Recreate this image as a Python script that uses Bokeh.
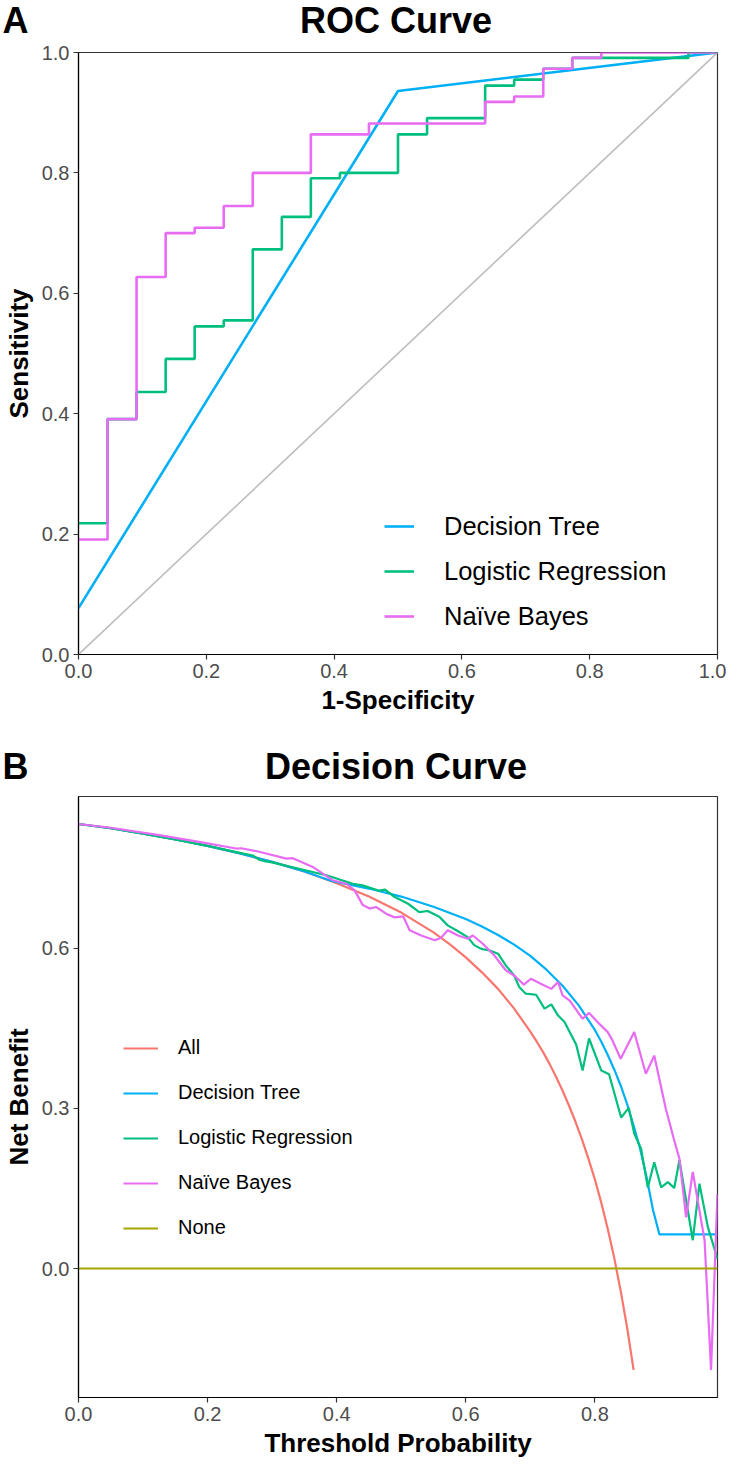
from bokeh.plotting import figure
from bokeh.layouts import column
from bokeh.models import Label, Legend, LegendItem, Range1d, FixedTicker, PrintfTickFormatter
from bokeh.embed import file_html
from bokeh.resources import INLINE

FONT = "Liberation Sans"

# ---------------- Panel A: ROC curve data ----------------
dt_fpr = [0.0, 0.5, 1.0]
dt_tpr = [0.077, 0.936, 1.0]

lr_fpr = [0.0, 0.0455, 0.0455, 0.0909, 0.0909, 0.1364, 0.1364, 0.1818, 0.1818, 0.2273,
          0.2273, 0.2727, 0.2727, 0.3182, 0.3182, 0.3636, 0.3636, 0.4091, 0.4091, 0.5,
          0.5, 0.5455, 0.5455, 0.6364, 0.6364, 0.6818, 0.6818, 0.7273, 0.7273, 0.7727,
          0.7727, 0.9545, 0.9545, 1.0]
lr_tpr = [0.218, 0.218, 0.391, 0.391, 0.436, 0.436, 0.491, 0.491, 0.545, 0.545,
          0.555, 0.555, 0.673, 0.673, 0.727, 0.727, 0.791, 0.791, 0.8, 0.8,
          0.864, 0.864, 0.891, 0.891, 0.945, 0.945, 0.955, 0.955, 0.973, 0.973,
          0.991, 0.991, 1.0, 1.0]

nb_fpr = [0.0, 0.0455, 0.0455, 0.0909, 0.0909, 0.1364, 0.1364, 0.1818, 0.1818, 0.2273,
          0.2273, 0.2727, 0.2727, 0.3636, 0.3636, 0.4545, 0.4545, 0.6364, 0.6364, 0.6818,
          0.6818, 0.7273, 0.7273, 0.7727, 0.7727, 0.8182, 0.8182, 1.0]
nb_tpr = [0.191, 0.191, 0.391, 0.391, 0.627, 0.627, 0.700, 0.700, 0.709, 0.709,
          0.745, 0.745, 0.800, 0.800, 0.864, 0.864, 0.882, 0.882, 0.918, 0.918,
          0.927, 0.927, 0.973, 0.973, 0.991, 0.991, 1.0, 1.0]

diag_x = [0.0, 1.0]
diag_y = [0.0, 1.0]

roc_ticks = [0.0, 0.2, 0.4, 0.6, 0.8, 1.0]

# ---------------- Panel B: decision curve data ----------------
all_pt = [0.0, 0.05, 0.1, 0.15, 0.2, 0.25, 0.3, 0.35, 0.4, 0.45, 0.5, 0.55, 0.575, 0.6,
          0.625, 0.65, 0.675, 0.7, 0.71, 0.72, 0.73, 0.74, 0.75, 0.76, 0.77, 0.78, 0.79,
          0.8, 0.81, 0.82, 0.83, 0.84, 0.85, 0.86]
all_nb = [0.833, 0.825, 0.815, 0.804, 0.792, 0.778, 0.762, 0.744, 0.722, 0.697, 0.667, 0.630, 0.608, 0.583,
          0.555, 0.524, 0.487, 0.444, 0.425, 0.405, 0.383, 0.359, 0.333, 0.305, 0.275, 0.242, 0.206,
          0.167, 0.123, 0.074, 0.020, -0.042, -0.111, -0.190]

dtc_pt = [0.0, 0.05, 0.1, 0.15, 0.2, 0.25, 0.3, 0.35, 0.39, 0.45, 0.5, 0.55, 0.6, 0.625, 0.65,
          0.675, 0.7, 0.725, 0.75, 0.775, 0.8, 0.81, 0.82, 0.83, 0.84, 0.85, 0.86, 0.87, 0.88,
          0.89, 0.90, 0.99]
dtc_nb = [0.833, 0.825, 0.815, 0.804, 0.792, 0.778, 0.762, 0.744, 0.727, 0.712, 0.697, 0.678, 0.655, 0.641, 0.625,
          0.607, 0.586, 0.560, 0.530, 0.493, 0.447, 0.425, 0.400, 0.373, 0.343, 0.308, 0.268, 0.225, 0.172,
          0.110, 0.064, 0.064]

lrc_pt = [0.0, 0.05, 0.1, 0.15, 0.2, 0.25, 0.27, 0.28, 0.29, 0.3, 0.332, 0.384, 0.425, 0.44, 0.466,
          0.475, 0.49, 0.51, 0.528, 0.541, 0.559, 0.572, 0.588, 0.603, 0.613, 0.624, 0.637, 0.65,
          0.662, 0.675, 0.683, 0.693, 0.709, 0.722, 0.7325, 0.743, 0.753, 0.771, 0.781, 0.791,
          0.81, 0.822, 0.8407, 0.8525, 0.861, 0.8717, 0.882, 0.892, 0.9027, 0.913, 0.923, 0.931,
          0.9517, 0.962, 0.975, 0.99]
lrc_nb = [0.833, 0.825, 0.815, 0.804, 0.792, 0.779, 0.774, 0.766, 0.763, 0.761, 0.752, 0.737, 0.721, 0.718, 0.708,
          0.710, 0.696, 0.684, 0.668, 0.670, 0.659, 0.643, 0.632, 0.621, 0.606, 0.599, 0.596, 0.590,
          0.568, 0.549, 0.527, 0.515, 0.513, 0.487, 0.495, 0.474, 0.462, 0.420, 0.371, 0.431,
          0.371, 0.364, 0.283, 0.301, 0.253, 0.224, 0.152, 0.199, 0.152, 0.162, 0.151, 0.203,
          0.053, 0.159, 0.078, 0.018]

nbc_pt = [0.0, 0.05, 0.125, 0.187, 0.244, 0.252, 0.28, 0.322, 0.332, 0.363, 0.3785, 0.394, 0.415,
          0.4276, 0.4405, 0.451, 0.461, 0.4767, 0.4896, 0.503, 0.513, 0.531, 0.552, 0.562, 0.572,
          0.588, 0.603, 0.611, 0.626, 0.644, 0.662, 0.675, 0.69, 0.701, 0.717, 0.7325, 0.743,
          0.75, 0.761, 0.781, 0.791, 0.804, 0.82, 0.827, 0.84, 0.861, 0.879, 0.892, 0.91, 0.923,
          0.931, 0.9414, 0.9517, 0.97, 0.98, 0.99]
nbc_nb = [0.833, 0.826, 0.812, 0.7995, 0.787, 0.7875, 0.781, 0.768, 0.769, 0.7525, 0.740, 0.7275, 0.721,
          0.709, 0.681, 0.6745, 0.6775, 0.665, 0.658, 0.660, 0.634, 0.624, 0.615, 0.620, 0.634,
          0.624, 0.618, 0.624, 0.609, 0.587, 0.559, 0.549, 0.532, 0.543, 0.533, 0.524, 0.537,
          0.512, 0.502, 0.468, 0.479, 0.462, 0.443, 0.428, 0.393, 0.443, 0.365, 0.399, 0.299, 0.240,
          0.206, 0.096, 0.181, 0.053, -0.190, 0.140]

none_pt = [0.0, 0.99]
none_nb = [0.0, 0.0]

dc_xticks = [0.0, 0.2, 0.4, 0.6, 0.8]
dc_yticks = [0.0, 0.3, 0.6]

C_ALL, C_DT, C_LR, C_NB, C_NONE = "#F8766D", "#00B0F6", "#00BF7D", "#E76BF3", "#A3A500"

CANVAS_W = 724


def style(p, xticks, yticks):
    p.frame_align = False
    p.outline_line_color = "#333333"
    p.outline_line_width = 1.2
    p.xgrid.visible = False
    p.ygrid.visible = False
    p.background_fill_color = "white"
    p.border_fill_color = "white"
    p.xaxis.ticker = FixedTicker(ticks=xticks)
    p.yaxis.ticker = FixedTicker(ticks=yticks)
    for ax in (p.xaxis[0], p.yaxis[0]):
        ax.formatter = PrintfTickFormatter(format="%.1f")
        ax.axis_line_color = "black"
        ax.axis_line_width = 1.2
        ax.major_tick_line_color = "#333333"
        ax.major_tick_line_width = 1.2
        ax.major_tick_out = 5
        ax.major_tick_in = 0
        ax.minor_tick_line_color = None
        ax.major_label_text_font = FONT
        ax.major_label_text_font_size = "20px"
        ax.major_label_text_color = "#4D4D4D"
        ax.axis_label_text_font = FONT
        ax.axis_label_text_font_style = "bold"
        ax.axis_label_text_font_size = "26px"
        ax.axis_label_text_color = "black"
    p.xaxis.major_label_standoff = 4
    p.yaxis.major_label_standoff = 4
    p.xaxis.axis_label_standoff = 4
    p.yaxis.axis_label_standoff = 5


def title_row(height, center_from_top, letter, title, title_x):
    t = figure(width=CANVAS_W, height=height, output_backend="svg", toolbar_location=None,
               x_range=Range1d(0, CANVAS_W), y_range=Range1d(0, height),
               x_axis_type=None, y_axis_type=None,
               min_border=0, min_border_left=0, min_border_right=0,
               min_border_top=0, min_border_bottom=0)
    t.frame_align = False
    t.outline_line_color = None
    t.background_fill_color = "white"
    t.border_fill_color = "white"
    yc = height - center_from_top
    t.add_layout(Label(x=2, y=yc, text=letter, text_align="left", text_baseline="middle",
                       text_font=FONT, text_font_style="bold", text_font_size="36px", text_color="black"))
    t.add_layout(Label(x=title_x, y=yc, text=title, text_align="center", text_baseline="middle",
                       text_font=FONT, text_font_style="bold", text_font_size="36px", text_color="black"))
    return t


# ---------------- Figure A ----------------
t1 = title_row(39, 20, "A", "ROC Curve", 395.5)

p1 = figure(frame_width=639, frame_height=602, output_backend="svg", toolbar_location=None,
            x_range=Range1d(0, 1), y_range=Range1d(0, 1),
            min_border_left=76, min_border_right=9, min_border_top=13, min_border_bottom=91,
            x_axis_label="1-Specificity", y_axis_label="Sensitivity")
style(p1, roc_ticks, roc_ticks)

p1.line(diag_x, diag_y, line_color="#BEBEBE", line_width=1.6)
r_dt = p1.line(dt_fpr, dt_tpr, line_color=C_DT, line_width=2.6)
r_lr = p1.line(lr_fpr, lr_tpr, line_color=C_LR, line_width=2.6)
r_nb = p1.line(nb_fpr, nb_tpr, line_color=C_NB, line_width=2.6)

leg1 = Legend(items=[LegendItem(label="Decision Tree", renderers=[r_dt]),
                     LegendItem(label="Logistic Regression", renderers=[r_lr]),
                     LegendItem(label="Naïve Bayes", renderers=[r_nb])],
              location=(306, 23), orientation="vertical",
              glyph_width=30, glyph_height=30, label_height=30, spacing=15,
              padding=5, margin=0, label_standoff=30,
              label_text_font=FONT, label_text_font_size="25.5px", label_text_color="black",
              background_fill_color="white", background_fill_alpha=1.0, border_line_color=None)
p1.add_layout(leg1)

# ---------------- Figure B ----------------
t2 = title_row(47, 21, "B", "Decision Curve", 395.5)

p2 = figure(frame_width=639, frame_height=601, output_backend="svg", toolbar_location=None,
            x_range=Range1d(0, 0.99), y_range=Range1d(-0.2417, 0.8845),
            min_border_left=76, min_border_right=9, min_border_top=4, min_border_bottom=60,
            x_axis_label="Threshold Probability", y_axis_label="Net Benefit")
style(p2, dc_xticks, dc_yticks)

r_all = p2.line(all_pt, all_nb, line_color=C_ALL, line_width=2.2)
r_dtc = p2.line(dtc_pt, dtc_nb, line_color=C_DT, line_width=2.2)
r_lrc = p2.line(lrc_pt, lrc_nb, line_color=C_LR, line_width=2.2)
r_nbc = p2.line(nbc_pt, nbc_nb, line_color=C_NB, line_width=2.2)
r_none = p2.line(none_pt, none_nb, line_color=C_NONE, line_width=2.2)

leg2 = Legend(items=[LegendItem(label="All", renderers=[r_all]),
                     LegendItem(label="Decision Tree", renderers=[r_dtc]),
                     LegendItem(label="Logistic Regression", renderers=[r_lrc]),
                     LegendItem(label="Naïve Bayes", renderers=[r_nbc]),
                     LegendItem(label="None", renderers=[r_none])],
              location=(45, 158), orientation="vertical",
              glyph_width=35, glyph_height=22, label_height=22, spacing=22,
              padding=5, margin=0, label_standoff=20,
              label_text_font=FONT, label_text_font_size="20px", label_text_color="black",
              background_fill_color="white", background_fill_alpha=1.0, border_line_color=None)
p2.add_layout(leg2)

layout = column(t1, p1, t2, p2, spacing=0)
open("out.html", "w").write(file_html(layout, INLINE))
